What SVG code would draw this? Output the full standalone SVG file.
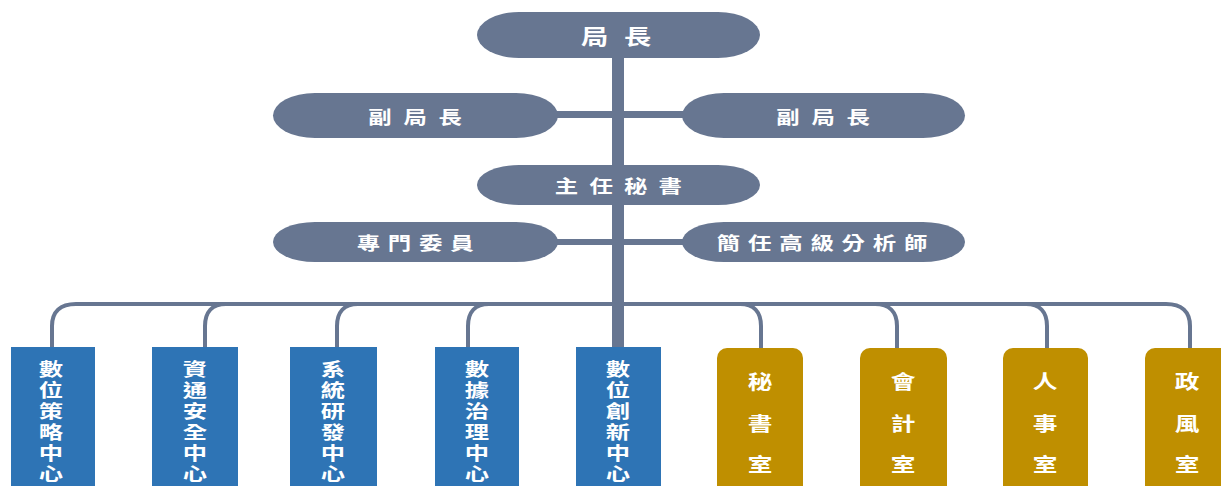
<svg xmlns="http://www.w3.org/2000/svg" width="1221" height="486" viewBox="0 0 1221 486">
<style>
.pill{fill:#677691}
.bar{fill:#677691}
.ln{fill:none;stroke:#677691;stroke-width:4}
.pt{fill:#fff;font-family:"Noto Sans CJK TC","Noto Sans CJK SC",sans-serif;font-weight:bold;text-anchor:middle;dominant-baseline:central}
.blue{fill:#2E74B5}
.gold{fill:#BF8F00}
.vt{fill:#fff;font-family:"Noto Sans CJK TC","Noto Sans CJK SC",sans-serif;font-weight:bold;font-size:18px;text-anchor:middle;dominant-baseline:central}
.gt{fill:#fff;font-family:"Noto Sans CJK TC","Noto Sans CJK SC",sans-serif;font-weight:bold;font-size:19px;text-anchor:middle;dominant-baseline:central}
</style>
<g id="connectors">
<rect class="bar" x="612" y="50" width="12" height="300"/>
<rect class="bar" x="550" y="111" width="140" height="7"/>
<rect class="bar" x="550" y="239" width="140" height="6"/>
<path class="ln" d="M52 348 L52 326 C52 312 60 304 76 304 L1166 304 C1182 304 1190 312 1190 326 L1190 348"/>
<path class="ln" d="M205 348 L205 326 C205 312 212 304 226 304"/>
<path class="ln" d="M337 348 L337 326 C337 312 344 304 358 304"/>
<path class="ln" d="M468 348 L468 326 C468 312 475 304 489 304"/>
<path class="ln" d="M740 304 C754 304 761 312 761 326 L761 348"/>
<path class="ln" d="M875 304 C889 304 897 312 897 326 L897 348"/>
<path class="ln" d="M1026 304 C1040 304 1047 312 1047 326 L1047 348"/>
</g>
<g id="n-director">
<rect class="pill" x="477" y="12" width="283" height="46" rx="42" ry="23"/>
<text class="pt" font-size="21" letter-spacing="12" transform="translate(624 35) scale(1.3 1)">局長</text>
</g>
<g id="n-deputy-left">
<rect class="pill" x="273" y="93" width="285" height="45" rx="42" ry="22.5"/>
<text class="pt" font-size="18" letter-spacing="9" transform="translate(421 116) scale(1.3 1)">副局長</text>
</g>
<g id="n-deputy-right">
<rect class="pill" x="682" y="93" width="283" height="45" rx="42" ry="22.5"/>
<text class="pt" font-size="18" letter-spacing="9" transform="translate(829 116) scale(1.3 1)">副局長</text>
</g>
<g id="n-secretary">
<rect class="pill" x="477" y="165" width="283" height="40" rx="42" ry="20"/>
<text class="pt" font-size="18" letter-spacing="8.6" transform="translate(624 185) scale(1.3 1)">主任秘書</text>
</g>
<g id="n-commissioner">
<rect class="pill" x="273" y="222" width="285" height="40" rx="42" ry="20"/>
<text class="pt" font-size="18" letter-spacing="6" transform="translate(419 242) scale(1.3 1)">專門委員</text>
</g>
<g id="n-analyst">
<rect class="pill" x="682" y="222" width="283" height="40" rx="42" ry="20"/>
<text class="pt" font-size="18" letter-spacing="6" transform="translate(826 242) scale(1.3 1)">簡任高級分析師</text>
</g>
<g id="n-c1">
<rect class="blue" x="11" y="347" width="84" height="145"/>
<text class="vt" transform="translate(51 0) scale(1.35 1)"><tspan x="0" y="368">數</tspan><tspan x="0" y="389">位</tspan><tspan x="0" y="410">策</tspan><tspan x="0" y="431">略</tspan><tspan x="0" y="452">中</tspan><tspan x="0" y="473">心</tspan></text>
</g>
<g id="n-c2">
<rect class="blue" x="152" y="347" width="86" height="145"/>
<text class="vt" transform="translate(195 0) scale(1.35 1)"><tspan x="0" y="368">資</tspan><tspan x="0" y="389">通</tspan><tspan x="0" y="410">安</tspan><tspan x="0" y="431">全</tspan><tspan x="0" y="452">中</tspan><tspan x="0" y="473">心</tspan></text>
</g>
<g id="n-c3">
<rect class="blue" x="290" y="347" width="87" height="145"/>
<text class="vt" transform="translate(333 0) scale(1.35 1)"><tspan x="0" y="368">系</tspan><tspan x="0" y="389">統</tspan><tspan x="0" y="410">研</tspan><tspan x="0" y="431">發</tspan><tspan x="0" y="452">中</tspan><tspan x="0" y="473">心</tspan></text>
</g>
<g id="n-c4">
<rect class="blue" x="435" y="347" width="84" height="145"/>
<text class="vt" transform="translate(477 0) scale(1.35 1)"><tspan x="0" y="368">數</tspan><tspan x="0" y="389">據</tspan><tspan x="0" y="410">治</tspan><tspan x="0" y="431">理</tspan><tspan x="0" y="452">中</tspan><tspan x="0" y="473">心</tspan></text>
</g>
<g id="n-c5">
<rect class="blue" x="576" y="347" width="85" height="145"/>
<text class="vt" transform="translate(618 0) scale(1.35 1)"><tspan x="0" y="368">數</tspan><tspan x="0" y="389">位</tspan><tspan x="0" y="410">創</tspan><tspan x="0" y="431">新</tspan><tspan x="0" y="452">中</tspan><tspan x="0" y="473">心</tspan></text>
</g>
<g id="n-o1">
<rect class="gold" x="717" y="348" width="86" height="150" rx="10"/>
<text class="gt" transform="translate(760 0) scale(1.3 1)"><tspan x="0" y="380">秘</tspan><tspan x="0" y="422">書</tspan><tspan x="0" y="463">室</tspan></text>
</g>
<g id="n-o2">
<rect class="gold" x="860" y="348" width="87" height="150" rx="10"/>
<text class="gt" transform="translate(903 0) scale(1.3 1)"><tspan x="0" y="380">會</tspan><tspan x="0" y="422">計</tspan><tspan x="0" y="463">室</tspan></text>
</g>
<g id="n-o3">
<rect class="gold" x="1003" y="348" width="85" height="150" rx="10"/>
<text class="gt" transform="translate(1045 0) scale(1.3 1)"><tspan x="0" y="380">人</tspan><tspan x="0" y="422">事</tspan><tspan x="0" y="463">室</tspan></text>
</g>
<g id="n-o4">
<rect class="gold" x="1145" y="348" width="90" height="150" rx="10"/>
<text class="gt" transform="translate(1187 0) scale(1.3 1)"><tspan x="0" y="380">政</tspan><tspan x="0" y="422">風</tspan><tspan x="0" y="463">室</tspan></text>
</g>
</svg>
